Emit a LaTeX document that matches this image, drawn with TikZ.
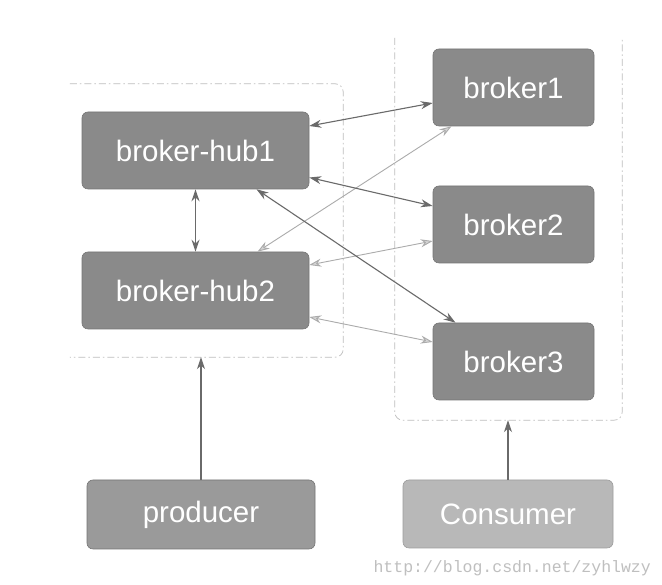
\documentclass[tikz,border=0pt]{standalone}
\usepackage{fontspec}
\setmainfont{Liberation Sans}
\newfontfamily\wmfont{Liberation Mono}
\usetikzlibrary{arrows.meta,calc,fit}
\definecolor{boxdark}{HTML}{8A8A8A}
\definecolor{boxmid}{HTML}{9A9A9A}
\definecolor{boxlight}{HTML}{B8B8B8}
\definecolor{linedark}{HTML}{6A6A6A}
\definecolor{linelight}{HTML}{ABABAB}
\definecolor{grpline}{HTML}{BDBDBD}
\tikzset{
  box/.style={rectangle, rounded corners=6pt, fill=boxdark, draw=boxdark!85!black, line width=0.6pt,
    text=white, inner sep=0pt, minimum width=227pt, minimum height=77pt,
    font=\fontsize{29.5}{29.5}\selectfont},
  bbox/.style={box, minimum width=161pt},
  grp/.style={draw=none, inner sep=0pt},
  grpborder/.style={draw=grpline, line width=0.7pt, rounded corners=8pt,
    dash pattern=on 7pt off 3pt on 1.5pt off 3pt},
  darkarrow/.style={draw=linedark, line width=1.1pt, {Stealth[length=12pt,width=8pt]}-{Stealth[length=12pt,width=8pt]}},
  lightarrow/.style={draw=linelight, line width=0.9pt, {Stealth[length=12pt,width=8pt,fill=linelight!50]}-{Stealth[length=12pt,width=8pt,fill=linelight!50]}},
  uparrow/.style={draw=linedark, line width=1.2pt, -{Stealth[length=12pt,width=8pt]}},
}
\begin{document}
\begin{tikzpicture}[x=1pt,y=1pt]
\fill[white] (0,0) rectangle (662,585);
\useasboundingbox (0,0) rectangle (662,585);

% groups (regions)
\coordinate (lgsw) at (70,228);
\coordinate (lgne) at (343,501);
\coordinate (rgsw) at (395,165);
\coordinate (rgne) at (622,547);
\node[grp, fit=(lgsw)(lgne)] (lg) {};
\node[grp, fit=(rgsw)(rgne)] (rg) {};
\draw[grpborder] (lg.north west) -- (lg.north east) -- (lg.south east) -- (lg.south west);
\draw[grpborder] (rg.north west) -- (rg.south west) -- (rg.south east) -- (rg.north east);

% nodes
\node[box] (hub1) at (195.5,434.5) {broker-hub1};
\node[box] (hub2) at (195.5,294.5) {broker-hub2};
\node[bbox] (b1) at (513.5,497.5) {broker1};
\node[bbox] (b2) at (513.5,360.5) {broker2};
\node[bbox] (b3) at (513.5,223.5) {broker3};
\node[box, fill=boxmid, minimum width=228pt, minimum height=69pt] (prod) at (201,70.5) {producer};
\node[box, fill=boxlight, draw=boxlight!85!black, minimum width=210pt, minimum height=68pt] (cons) at (508,71) {Consumer};

% connectors
\draw[lightarrow] ([xshift=62pt]hub2.north) -- ([xshift=-62pt]b1.south);
\draw[lightarrow] ([yshift=25.5pt]hub2.east) -- ([yshift=-16.5pt]b2.west);
\draw[lightarrow] ([yshift=-26.5pt]hub2.east) -- ([yshift=19.5pt]b3.west);
\draw[darkarrow] ([yshift=24.5pt]hub1.east) -- ([yshift=-15.5pt]b1.west);
\draw[darkarrow] ([yshift=-27pt]hub1.east) -- ([yshift=18.5pt]b2.west);
\draw[darkarrow] ([xshift=61pt]hub1.south) -- ([xshift=-58pt]b3.north);
\draw[darkarrow] (hub1.south) -- (hub2.north);
\draw[uparrow] (prod.north) -- (prod.north |- lg.south);
\draw[uparrow] (cons.north) -- (cons.north |- rg.south);

% watermark
\node[text=black!25, font=\wmfont\fontsize{16.5}{16.5}\selectfont, anchor=east, inner sep=0pt] (wm) at (651,17) {http://blog.csdn.net/zyhlwzy};
\end{tikzpicture}
\end{document}
